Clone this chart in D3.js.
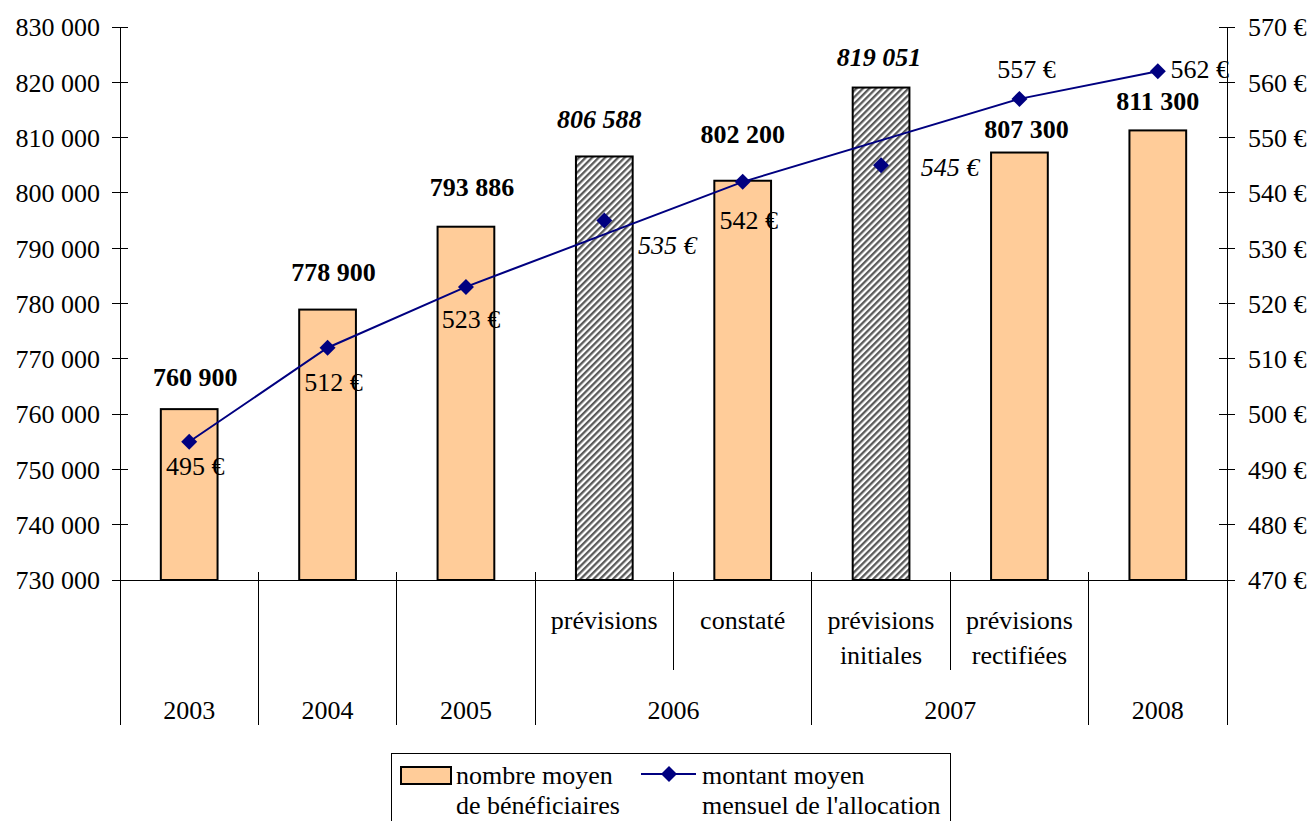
<!DOCTYPE html>
<html>
<head>
<meta charset="utf-8">
<script src="https://cdn.jsdelivr.net/npm/d3@7/dist/d3.min.js"></script>
<style>
  html, body { margin: 0; padding: 0; background: #fff; }
  svg { display: block; }
  text { font-family: "Liberation Serif", "Times New Roman", Times, serif; fill: #000; }
</style>
</head>
<body>
<svg id="chart" width="1311" height="821"></svg>
<script>
// Categories along the bottom axis
const categories = ["2003", "2004", "2005", "2006 prévisions", "2006 constaté",
  "2007 prévisions initiales", "2007 prévisions rectifiées", "2008"];
const subLabels = [[], [], [], ["prévisions"], ["constaté"],
  ["prévisions", "initiales"], ["prévisions", "rectifiées"], []];
const years = ["2003", "2004", "2005", "2006", "2007", "2008"];
const yearSpans = [1, 1, 1, 2, 2, 1];

// Series
const beneficiaries = [760900, 778900, 793886, 806588, 802200, 819051, 807300, 811300];
const allowance = [495, 512, 523, 535, 542, 545, 557, 562];
const isForecast = [false, false, false, true, false, true, false, false];

// Axis domains / ticks
const leftDomain = [730000, 830000];
const leftTicks = [730000, 740000, 750000, 760000, 770000, 780000, 790000, 800000, 810000, 820000, 830000];
const rightDomain = [470, 570];
const rightTicks = [470, 480, 490, 500, 510, 520, 530, 540, 550, 560, 570];

const legendLabels = [["nombre moyen", "de bénéficiaires"], ["montant moyen", "mensuel de l'allocation"]];

// ---- layout ----
const svg = d3.select("#chart");
const X0 = 120, X1 = 1227, Y0 = 580, Y1 = 27, CAT_BOTTOM = 725;
const FS = 26;
const SERIF = '"Liberation Serif", "Times New Roman", Times, serif';
const BAR_COLOR = "#FFCC99", LINE_COLOR = "#000080";

const fr = d3.formatLocale({ decimal: ",", thousands: " ", grouping: [3], currency: ["", " €"] });
const fmt = fr.format(",d");

const x = d3.scaleBand().domain(categories).range([X0, X1]).padding(0);
const yL = d3.scaleLinear().domain(leftDomain).range([Y0, Y1]);
const yR = d3.scaleLinear().domain(rightDomain).range([Y0, Y1]);
const cx = c => x(c) + x.bandwidth() / 2;
const barW = x.bandwidth() * 0.41;

// hatch pattern for forecast bars
const defs = svg.append("defs");
const pat = defs.append("pattern").attr("id", "hatch")
  .attr("patternUnits", "userSpaceOnUse").attr("width", 4.6).attr("height", 10)
  .attr("patternTransform", "rotate(45)");
pat.append("rect").attr("width", 4.6).attr("height", 10).attr("fill", "#fff");
pat.append("rect").attr("width", 2.3).attr("height", 10).attr("fill", "#5a5a5a");

// ---- axes ----
const leftAxis = d3.axisLeft(yL).tickValues(leftTicks).tickSize(0).tickFormat(fmt);
const gL = svg.append("g").attr("transform", `translate(${X0},0)`).call(leftAxis);
gL.attr("font-family", SERIF);
gL.select(".domain").remove();
gL.selectAll("text").attr("x", -20).style("font-size", FS + "px").attr("dy", "0.34em");

const rightAxis = d3.axisRight(yR).tickValues(rightTicks).tickSize(0).tickFormat(d => d + " €");
const gR = svg.append("g").attr("transform", `translate(${X1},0)`).call(rightAxis);
gR.attr("font-family", SERIF);
gR.select(".domain").remove();
gR.selectAll("text").attr("x", 21).style("font-size", FS + "px").attr("dy", "0.34em");

const axisG = svg.append("g").attr("stroke", "#000").attr("stroke-width", 1).attr("shape-rendering", "crispEdges");
// vertical axis lines (extend down through the category area)
axisG.append("line").attr("x1", X0).attr("x2", X0).attr("y1", Y1).attr("y2", CAT_BOTTOM);
axisG.append("line").attr("x1", X1).attr("x2", X1).attr("y1", Y1).attr("y2", CAT_BOTTOM);
// tick marks crossing the axes
leftTicks.forEach(t => axisG.append("line").attr("x1", X0 - 8).attr("x2", X0 + 8).attr("y1", yL(t)).attr("y2", yL(t)));
rightTicks.forEach(t => axisG.append("line").attr("x1", X1 - 8).attr("x2", X1 + 8).attr("y1", yR(t)).attr("y2", yR(t)));

// ---- bars ----
svg.append("g").selectAll("rect").data(categories).join("rect")
  .attr("x", d => cx(d) - barW / 2)
  .attr("width", barW)
  .attr("y", (d, i) => yL(beneficiaries[i]))
  .attr("height", (d, i) => Y0 - yL(beneficiaries[i]))
  .attr("fill", (d, i) => isForecast[i] ? "url(#hatch)" : BAR_COLOR)
  .attr("stroke", "#000").attr("stroke-width", 2);

// horizontal category axis line
axisG.append("line").attr("x1", X0 - 8).attr("x2", X1 + 8).attr("y1", Y0).attr("y2", Y0);

// category separators
let acc = 0;
const groupEdges = [];
yearSpans.forEach(s => { acc += s; groupEdges.push(acc); });
for (let i = 1; i < categories.length; i++) {
  const xe = x(categories[i]);
  const major = groupEdges.includes(i);
  axisG.append("line").attr("x1", xe).attr("x2", xe)
    .attr("y1", Y0 - 8).attr("y2", major ? CAT_BOTTOM : 670);
}

// sub-category labels
const catLab = svg.append("g").style("font-size", FS + "px").attr("text-anchor", "middle");
categories.forEach((c, i) => {
  subLabels[i].forEach((ln, k) => {
    catLab.append("text").attr("x", cx(c)).attr("y", 620 + k * 35).attr("dy", "0.34em").text(ln);
  });
});
// year labels
acc = 0;
years.forEach((yv, i) => {
  const first = categories[acc], last = categories[acc + yearSpans[i] - 1];
  const mid = (x(first) + x(last) + x.bandwidth()) / 2;
  catLab.append("text").attr("x", mid).attr("y", 710).attr("dy", "0.34em").text(yv);
  acc += yearSpans[i];
});

// ---- bar value labels ----
const barLabelOffsets = [[6, -32], [6, -37], [6, -40], [-5, -37], [0, -47], [-2, -30], [7, -23], [0, -29]];
svg.append("g").selectAll("text").data(categories).join("text")
  .attr("x", (d, i) => cx(d) + barLabelOffsets[i][0])
  .attr("y", (d, i) => yL(beneficiaries[i]) + barLabelOffsets[i][1])
  .attr("dy", "0.34em").attr("text-anchor", "middle")
  .style("font-size", FS + "px").style("font-weight", "bold")
  .style("font-style", (d, i) => isForecast[i] ? "italic" : "normal")
  .text((d, i) => fmt(beneficiaries[i]));

// ---- allowance line (actual values only) ----
const actualIdx = d3.range(categories.length).filter(i => !isForecast[i]);
const line = d3.line().x(i => cx(categories[i])).y(i => yR(allowance[i]));
svg.append("path").datum(actualIdx).attr("d", line)
  .attr("fill", "none").attr("stroke", LINE_COLOR).attr("stroke-width", 2);

const diamond = (px, py, r) => `M${px},${py - r}L${px + r},${py}L${px},${py + r}L${px - r},${py}Z`;
svg.append("g").selectAll("path").data(categories).join("path")
  .attr("d", (d, i) => diamond(cx(d), yR(allowance[i]), 8))
  .attr("fill", LINE_COLOR);

const lineLabelOffsets = [[6, 24], [6, 34], [5, 32], [63, 25], [6, 38], [69, 2], [7, -30], [42, -2]];
svg.append("g").selectAll("text").data(categories).join("text")
  .attr("x", (d, i) => cx(d) + lineLabelOffsets[i][0])
  .attr("y", (d, i) => yR(allowance[i]) + lineLabelOffsets[i][1])
  .attr("dy", "0.34em").attr("text-anchor", "middle")
  .style("font-size", FS + "px")
  .style("font-style", (d, i) => isForecast[i] ? "italic" : "normal")
  .text((d, i) => allowance[i] + " €");

// ---- legend ----
const lg = svg.append("g");
lg.append("rect").attr("x", 391.5).attr("y", 753.5).attr("width", 559).attr("height", 80)
  .attr("fill", "#fff").attr("stroke", "#000").attr("stroke-width", 1);
lg.append("rect").attr("x", 401).attr("y", 767).attr("width", 50).attr("height", 17)
  .attr("fill", BAR_COLOR).attr("stroke", "#000").attr("stroke-width", 2);
lg.append("line").attr("x1", 641).attr("x2", 696).attr("y1", 774).attr("y2", 774)
  .attr("stroke", LINE_COLOR).attr("stroke-width", 2);
lg.append("path").attr("d", diamond(669, 774, 8)).attr("fill", LINE_COLOR);
const legX = [456, 702];
legendLabels.forEach((lines, j) => {
  lines.forEach((ln, k) => {
    lg.append("text").attr("x", legX[j]).attr("y", 775 + k * 30).attr("dy", "0.34em")
      .style("font-size", FS + "px").text(ln);
  });
});
</script>
</body>
</html>
